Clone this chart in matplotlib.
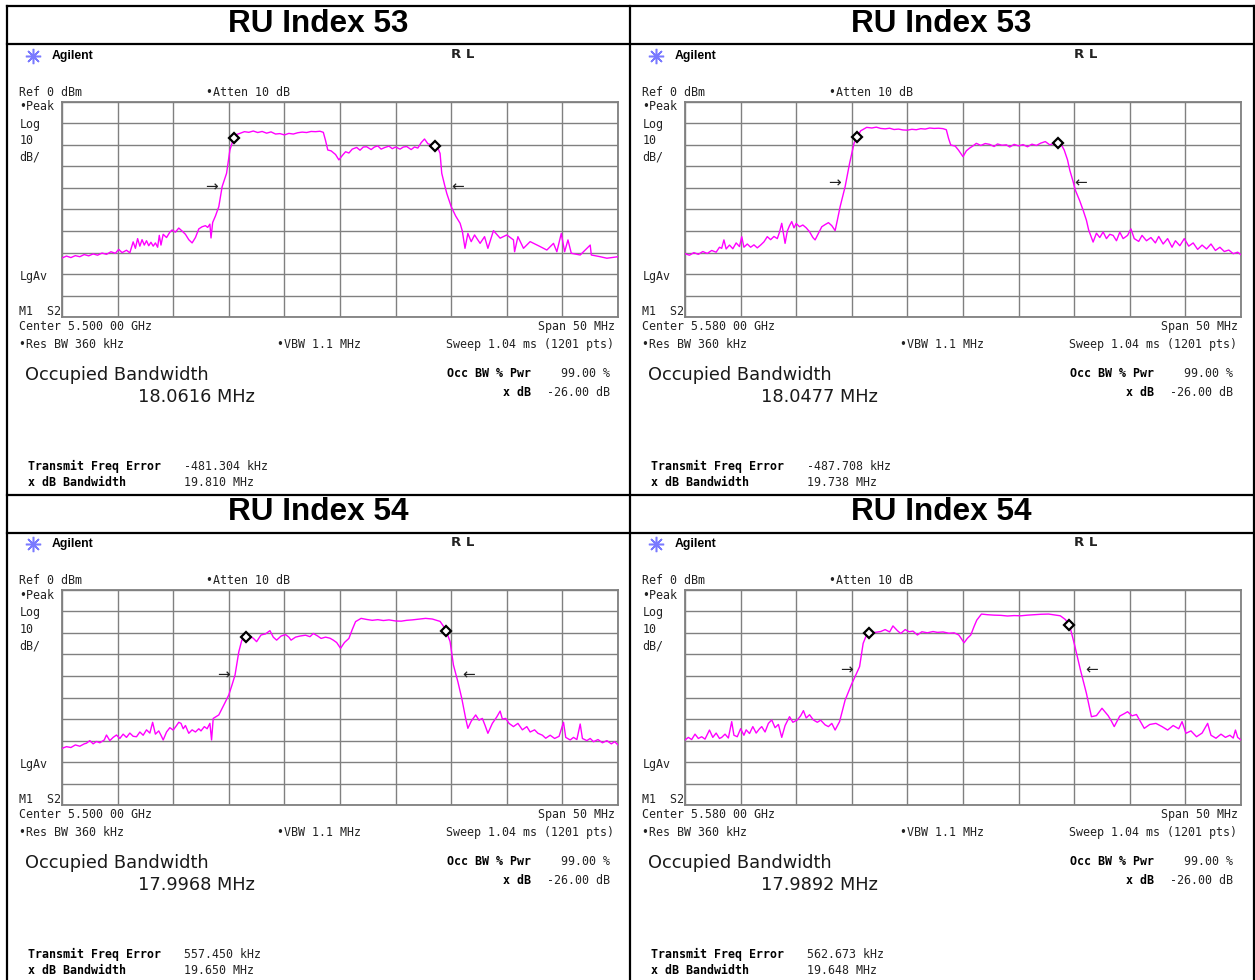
import numpy as np
import matplotlib
matplotlib.use("Agg")
import matplotlib.pyplot as plt
from matplotlib import font_manager

# occupied bandwidth captures, two RUs at two channel centres
ru_index = [53, 53, 54, 54]
center_ghz = ["5.500 00", "5.580 00", "5.500 00", "5.580 00"]
occ_bw_mhz = [18.0616, 18.0477, 17.9968, 17.9892]
freq_err_khz = [-481.304, -487.708, 557.450, 562.673]
xdb_bw_mhz = [19.810, 19.738, 19.650, 19.648]

# trace 1: RU 53 @ 5.500 GHz (offset from centre in MHz, level in dBm)
t1_mhz = [-25.0, -24.6, -24.2, -23.8, -23.4, -23.0, -22.6, -22.2, -21.8, -21.4, -21.0, -20.6, -20.2, -19.9,
          -19.6, -19.2, -18.9, -18.6, -18.4, -18.2, -18.0, -17.8, -17.6, -17.4, -17.2, -17.0, -16.8, -16.6,
          -16.4, -16.25, -16.1, -15.9, -15.6, -15.3, -15.1, -14.8, -14.5, -14.2, -13.9, -13.6, -13.3, -13.0,
          -12.7, -12.4, -12.1, -11.9, -11.7, -11.6, -11.45, -11.2, -10.9, -10.6, -10.2, -9.9, -9.6, -9.3,
          -9.0, -8.6, -8.2, -7.8, -7.4, -7.0, -6.6, -6.2, -5.8, -5.4, -5.0, -4.6, -4.2, -3.8, -3.4, -3.0,
          -2.6, -2.2, -1.8, -1.5, -1.3, -1.1, -0.8, -0.4, -0.1, 0.2, 0.5, 0.8, 1.1, 1.5, 1.8, 2.1, 2.4, 2.8,
          3.1, 3.4, 3.7, 4.0, 4.4, 4.7, 5.0, 5.4, 5.7, 6.0, 6.4, 6.7, 7.0, 7.3, 7.6, 7.9, 8.2, 8.5, 8.8,
          9.0, 9.15, 9.4, 9.6, 10.0, 10.4, 10.8, 11.0, 11.24, 11.5, 11.8, 12.1, 12.6, 13.0, 13.3, 13.8,
          14.4, 15.0, 15.6, 15.7, 16.0, 16.5, 17.1, 18.0, 18.6, 19.2, 19.5, 19.9, 20.2, 20.5, 20.8, 21.6,
          22.5, 22.6, 23.4, 24.0, 25.0]
t1_dbm = [-72.5, -71.6, -72.3, -71.4, -71.9, -70.9, -71.5, -70.6, -71.2, -70.2, -70.8, -69.6, -70.3, -68.5,
          -70.0, -68.9, -70.1, -65.0, -68.0, -63.5, -67.0, -64.0, -66.5, -64.5, -66.8, -65.2, -67.0, -65.5,
          -67.5, -62.0, -66.5, -61.5, -63.0, -60.5, -59.5, -60.5, -58.6, -60.0, -61.5, -64.0, -65.5, -63.0,
          -59.0, -58.0, -57.5, -58.3, -56.8, -63.2, -56.0, -53.0, -48.7, -39.4, -33.2, -22.4, -17.5, -15.2,
          -14.7, -13.9, -14.2, -13.6, -14.3, -13.8, -14.6, -14.0, -15.0, -14.8, -15.4, -14.7, -15.0, -14.4,
          -14.1, -14.3, -13.8, -13.9, -13.7, -14.2, -18.0, -22.4, -22.8, -24.5, -27.0, -25.0, -23.2, -23.8,
          -22.0, -21.2, -22.5, -21.0, -20.9, -22.2, -21.0, -20.5, -22.0, -21.3, -20.6, -21.8, -21.0, -22.0,
          -21.0, -20.8, -22.2, -21.0, -21.5, -19.0, -17.3, -19.5, -20.0, -20.5, -21.5, -24.0, -33.2, -38.5,
          -42.5, -48.7, -53.0, -56.4, -60.0, -68.0, -61.1, -64.9, -61.8, -65.7, -62.6, -68.0, -59.8, -63.3,
          -61.8, -64.1, -69.6, -62.6, -68.0, -64.9, -67.2, -68.8, -65.7, -69.6, -61.1, -69.6, -64.1, -70.3,
          -71.1, -66.5, -71.1, -71.9, -72.6, -71.9]

# trace 2: RU 53 @ 5.580 GHz
t2_mhz = [-25.0, -24.6, -24.2, -23.8, -23.4, -23.0, -22.6, -22.2, -21.9, -21.7, -21.5, -21.3, -21.0, -20.7,
          -20.4, -20.1, -19.9, -19.7, -19.4, -19.1, -18.8, -18.5, -18.2, -17.9, -17.6, -17.3, -17.0, -16.7,
          -16.5, -16.3, -16.0, -15.8, -15.6, -15.4, -15.2, -15.0, -14.7, -14.4, -14.1, -13.8, -13.5, -13.3,
          -13.0, -12.7, -12.4, -12.1, -11.8, -11.5, -11.3, -11.05, -10.6, -10.2, -9.8, -9.5, -9.2, -8.66,
          -8.2, -7.8, -7.4, -7.0, -6.6, -6.2, -5.8, -5.4, -5.0, -4.6, -4.2, -3.8, -3.4, -3.0, -2.6, -2.2,
          -1.8, -1.5, -1.3, -1.1, -0.7, -0.4, 0.0, 0.3, 0.6, 0.9, 1.2, 1.6, 2.0, 2.4, 2.8, 3.1, 3.5, 3.9,
          4.2, 4.6, 5.0, 5.4, 5.8, 6.2, 6.6, 7.0, 7.4, 7.8, 8.2, 8.6, 8.9, 9.1, 9.4, 9.6, 9.9, 10.1, 10.5,
          10.8, 11.1, 11.3, 11.7, 12.0, 12.3, 12.6, 12.9, 13.2, 13.5, 13.8, 14.1, 14.4, 14.8, 15.1, 15.4,
          15.8, 16.1, 16.5, 16.9, 17.3, 17.6, 18.0, 18.4, 18.8, 19.1, 19.5, 19.9, 20.3, 20.7, 21.1, 21.5,
          21.9, 22.3, 22.7, 23.1, 23.5, 23.9, 24.3, 24.7, 25.0]
t2_dbm = [-70.5, -71.2, -70.0, -70.8, -69.5, -70.4, -69.0, -69.8, -67.5, -68.0, -64.1, -68.3, -66.5, -68.2,
          -65.5, -67.2, -62.6, -67.5, -66.0, -67.5, -66.4, -67.8, -66.5, -65.0, -62.6, -64.0, -62.5, -63.5,
          -60.5, -56.4, -65.7, -60.0, -57.5, -55.6, -58.5, -56.5, -58.0, -57.2, -58.5, -60.3, -63.0, -64.1,
          -61.0, -58.0, -57.0, -56.1, -57.5, -59.8, -55.0, -48.7, -39.4, -28.6, -19.3, -16.2, -13.5, -11.9,
          -12.2, -11.8, -12.4, -12.6, -12.3, -12.9, -12.7, -13.1, -13.2, -12.8, -13.0, -12.5, -12.7, -12.2,
          -12.4, -12.3, -12.5, -13.0, -17.0, -20.1, -20.6, -22.5, -25.5, -22.8, -21.5, -20.5, -19.3, -20.3,
          -19.4, -19.8, -20.8, -19.6, -20.2, -20.0, -21.0, -19.8, -20.5, -19.9, -20.9, -19.7, -20.3, -19.2,
          -18.5, -20.0, -19.3, -19.2, -20.5, -22.4, -27.0, -31.7, -37.0, -41.0, -46.0, -50.3, -55.0, -59.5,
          -65.1, -61.0, -63.0, -60.4, -63.5, -61.5, -62.0, -64.5, -60.5, -63.5, -62.0, -59.0, -63.5, -64.8,
          -62.0, -64.5, -63.0, -65.5, -62.5, -66.0, -63.5, -67.5, -64.5, -66.8, -63.5, -67.0, -65.5, -68.5,
          -66.5, -68.3, -66.0, -69.0, -67.5, -69.5, -68.8, -70.5, -69.8, -71.0]

# trace 3: RU 54 @ 5.500 GHz
t3_mhz = [-25.0, -24.6, -24.2, -23.8, -23.4, -23.0, -22.8, -22.5, -22.2, -21.9, -21.6, -21.2, -21.0, -20.7,
          -20.4, -20.1, -19.8, -19.5, -19.2, -18.9, -18.6, -18.3, -18.0, -17.7, -17.4, -17.1, -16.85, -16.6,
          -16.3, -16.1, -15.9, -15.6, -15.3, -15.0, -14.7, -14.5, -14.3, -14.1, -13.9, -13.6, -13.3, -13.0,
          -12.7, -12.5, -12.2, -11.95, -11.7, -11.55, -11.4, -10.9, -10.4, -10.0, -9.7, -9.44, -9.1, -8.83,
          -8.5, -8.2, -7.8, -7.5, -7.1, -6.7, -6.3, -6.0, -5.7, -5.3, -4.9, -4.6, -4.4, -4.0, -3.6, -3.1,
          -2.7, -2.4, -2.0, -1.7, -1.3, -0.9, -0.6, -0.3, 0.05, 0.4, 0.8, 1.1, 1.4, 1.9, 2.4, 2.9, 3.4, 3.9,
          4.4, 5.0, 5.5, 6.0, 6.5, 7.0, 7.7, 8.3, 9.0, 9.5, 9.9, 10.2, 10.6, 10.95, 11.3, 11.5, 11.8, 12.2,
          12.5, 12.8, 13.05, 13.3, 13.7, 14.1, 14.4, 14.6, 14.9, 15.2, 15.6, 16.0, 16.4, 16.8, 17.1, 17.5,
          17.8, 18.2, 18.5, 18.9, 19.3, 19.7, 20.1, 20.3, 20.7, 21.0, 21.3, 21.6, 21.8, 22.2, 22.5, 22.8,
          23.2, 23.6, 24.0, 24.4, 24.7, 25.0]
t3_dbm = [-73.6, -72.8, -73.2, -72.0, -72.6, -71.5, -71.2, -70.0, -71.5, -70.4, -71.0, -69.7, -67.4, -70.0,
          -68.5, -67.4, -69.0, -67.0, -68.5, -66.5, -68.0, -68.2, -66.0, -67.5, -65.0, -66.5, -61.5, -67.0,
          -65.5, -67.5, -69.7, -66.0, -64.0, -65.1, -63.0, -61.5, -62.0, -64.5, -63.0, -66.6, -65.0, -66.0,
          -64.5, -65.5, -63.5, -64.5, -62.0, -69.7, -59.7, -58.1, -53.0, -48.8, -44.0, -39.6, -28.8, -23.4,
          -22.1, -21.5, -22.5, -24.1, -21.0, -20.5, -19.0, -22.0, -23.4, -21.5, -20.8, -22.0, -23.4, -22.0,
          -21.5, -21.1, -21.8, -20.3, -21.5, -22.6, -22.0, -22.5, -23.4, -24.5, -27.2, -24.5, -22.6, -18.5,
          -14.8, -13.3, -13.8, -14.2, -13.9, -14.3, -14.0, -14.5, -14.6, -14.2, -14.0, -13.7, -13.3, -13.6,
          -14.7, -18.4, -24.1, -34.9, -42.7, -50.4, -59.7, -64.3, -61.0, -58.1, -60.5, -59.7, -63.0, -66.6,
          -62.0, -59.0, -56.3, -60.0, -59.7, -62.0, -63.5, -62.0, -65.0, -63.5, -66.0, -65.0, -66.6, -67.5,
          -68.9, -67.5, -69.0, -68.0, -61.5, -68.5, -69.7, -68.5, -69.5, -62.3, -69.0, -70.0, -69.0, -70.5,
          -69.5, -71.0, -70.0, -71.5, -70.5, -72.0]

# trace 4: RU 54 @ 5.580 GHz
t4_mhz = [-25.0, -24.7, -24.4, -24.1, -23.8, -23.5, -23.2, -22.8, -22.5, -22.2, -21.9, -21.7, -21.4, -21.1,
          -20.8, -20.6, -20.3, -20.0, -19.7, -19.5, -19.2, -18.9, -18.6, -18.3, -18.1, -17.8, -17.5, -17.2,
          -16.9, -16.6, -16.3, -16.0, -15.8, -15.6, -15.3, -14.9, -14.6, -14.35, -14.1, -13.8, -13.46, -13.1,
          -12.8, -12.4, -12.1, -11.8, -11.5, -11.1, -10.6, -10.05, -9.3, -8.98, -8.7, -8.45, -7.9, -7.4,
          -7.0, -6.6, -6.3, -5.9, -5.6, -5.2, -4.85, -4.5, -4.1, -3.7, -3.2, -2.7, -2.3, -1.8, -1.26, -0.8,
          -0.38, 0.1, 0.4, 0.7, 1.0, 1.24, 1.66, 2.2, 2.8, 3.4, 4.0, 4.6, 5.2, 5.8, 6.4, 7.0, 7.7, 8.2,
          8.75, 9.2, 9.58, 10.0, 10.56, 11.1, 11.55, 12.0, 12.5, 13.05, 13.35, 13.6, 14.1, 14.5, 14.8, 15.2,
          15.6, 16.0, 16.3, 16.8, 17.35, 17.9, 18.4, 18.9, 19.4, 19.7, 20.05, 20.5, 21.0, 21.5, 22.0, 22.3,
          22.75, 23.2, 23.6, 24.0, 24.3, 24.5, 24.7, 25.0]
t4_dbm = [-69.7, -68.5, -69.5, -67.0, -69.0, -68.2, -69.3, -65.1, -68.5, -66.5, -69.0, -68.5, -67.0, -68.8,
          -61.2, -67.5, -68.2, -64.5, -67.5, -65.0, -66.7, -63.5, -66.5, -64.5, -63.5, -66.0, -62.0, -60.4,
          -64.0, -62.5, -68.5, -63.0, -61.0, -58.9, -61.5, -60.4, -58.5, -56.1, -59.5, -58.0, -60.4, -61.5,
          -60.5, -62.7, -63.5, -62.0, -65.1, -61.2, -51.2, -44.2, -35.7, -24.9, -21.3, -19.9, -19.8, -19.4,
          -18.5, -19.6, -16.8, -19.0, -20.3, -18.5, -19.5, -19.2, -21.0, -19.5, -20.0, -19.4, -19.8, -19.6,
          -20.2, -20.0, -21.0, -24.6, -22.5, -21.0, -17.0, -14.1, -11.3, -11.6, -11.8, -11.9, -12.2, -12.0,
          -12.1, -11.8, -11.6, -11.4, -11.3, -11.7, -12.1, -13.8, -16.5, -24.9, -37.2, -48.1, -58.9, -58.4,
          -55.0, -58.4, -61.0, -63.5, -58.6, -57.5, -56.6, -58.5, -57.9, -61.5, -64.3, -62.5, -62.0, -63.5,
          -65.1, -63.0, -64.5, -61.2, -66.6, -65.5, -68.2, -66.5, -62.0, -67.5, -68.9, -67.0, -68.5, -67.5,
          -68.8, -65.1, -68.5, -69.7]

traces = [(t1_mhz, t1_dbm), (t2_mhz, t2_dbm), (t3_mhz, t3_dbm), (t4_mhz, t4_dbm)]

W, H = 1255, 980
fig = plt.figure(figsize=(W / 100, H / 100), dpi=100, facecolor="white")

# whole-figure axes in pixel units for the table, labels and logo
ov = fig.add_axes([0, 0, 1, 1], zorder=0)
ov.set_xlim(0, W)
ov.set_ylim(H, 0)
ov.axis("off")

fonts = {f.name for f in font_manager.fontManager.ttflist}
if "Liberation Sans Narrow" in fonts:
    big = dict(family="Liberation Sans Narrow", size=17)
else:
    big = dict(family="DejaVu Sans", size=12.8)
mono = dict(family="DejaVu Sans Mono", size=8.4, color="#222222")
mono_b = dict(family="DejaVu Sans Mono", size=8.4, color="black", fontweight="bold")

# table borders
for x0, y0, x1, y1 in [(7, 6.5, 1253.5, 6.5), (7, 44, 1253.5, 44), (7, 495, 1253.5, 495),
                       (7, 532.5, 1253.5, 532.5), (7, 6.5, 7, H), (1253.5, 6.5, 1253.5, H),
                       (630, 6.5, 630, H)]:
    ov.plot([x0, x1], [y0, y1], color="black", lw=1.6, solid_capstyle="projecting")

offsets = [(0, 0), (623, 0), (0, 488), (623, 488)]
grid_l, grid_t, grid_w, grid_h = 62, 101.7, 556, 215.6

for i, (ox, oy) in enumerate(offsets):
    # header cell
    hx = 318.5 if ox == 0 else 941.5
    ov.text(hx, 24 + oy, f"RU Index {ru_index[i]}", ha="center", va="center",
            family="Liberation Sans", fontweight="bold", fontsize=22.7)

    # analyzer banner
    ov.plot(33 + ox, 56 + oy, marker=(8, 2, 0), ms=11, mew=1.1, color="#7a7aff")
    ov.plot(33 + ox, 56 + oy, marker="s", ms=3.5, color="#7a7aff")
    ov.text(52 + ox, 56 + oy, "Agilent", va="center", family="Liberation Sans",
            fontweight="bold", fontsize=8.8)
    ov.text(451 + ox, 54 + oy, "R L", va="center", family="DejaVu Sans",
            fontweight="bold", fontsize=9.5, color="#222222")

    ov.text(19.3 + ox, 92 + oy, "Ref 0 dBm", va="center", **mono)
    ov.text(206 + ox, 92 + oy, "\u2022Atten 10 dB", va="center", **mono)
    for s, yy in [("\u2022Peak", 107), ("Log", 124.5), ("10", 141), ("dB/", 157.5),
                  ("LgAv", 276), ("M1  S2", 311)]:
        ov.text(19.3 + ox, yy + oy, s, va="center", **mono)
    ov.text(19.3 + ox, 326 + oy, f"Center {center_ghz[i]} GHz", va="center", **mono)
    ov.text(615 + ox, 326 + oy, "Span 50 MHz", va="center", ha="right", **mono)
    ov.text(19.3 + ox, 344.5 + oy, "\u2022Res BW 360 kHz", va="center", **mono)
    ov.text(276.7 + ox, 344.5 + oy, "\u2022VBW 1.1 MHz", va="center", **mono)
    ov.text(614 + ox, 344.5 + oy, "Sweep 1.04 ms (1201 pts)", va="center", ha="right", **mono)

    ov.text(25 + ox, 375 + oy, "Occupied Bandwidth", va="center", color="#1a1a1a", **big)
    ov.text(138 + ox, 397 + oy, f"{occ_bw_mhz[i]:.4f} MHz", va="center", color="#1a1a1a", **big)
    ov.text(530.7 + ox, 373.5 + oy, "Occ BW % Pwr", va="center", ha="right", **mono_b)
    ov.text(610 + ox, 373.5 + oy, "99.00 %", va="center", ha="right", **mono)
    ov.text(530.7 + ox, 392 + oy, "x dB", va="center", ha="right", **mono_b)
    ov.text(610 + ox, 392 + oy, "-26.00 dB", va="center", ha="right", **mono)

    ov.text(27.7 + ox, 466 + oy, "Transmit Freq Error", va="center", **mono_b)
    ov.text(184 + ox, 466 + oy, f"{freq_err_khz[i]:.3f} kHz", va="center", **mono)
    ov.text(27.7 + ox, 482.5 + oy, "x dB Bandwidth", va="center", **mono_b)
    ov.text(184 + ox, 482.5 + oy, f"{xdb_bw_mhz[i]:.3f} MHz", va="center", **mono)

    # graticule and trace
    ax = fig.add_axes([(grid_l + ox) / W, 1 - (grid_t + oy + grid_h) / H, grid_w / W, grid_h / H],
                      zorder=2)
    ax.set_xlim(-25, 25)
    ax.set_ylim(-100, 0)
    ax.set_xticks(np.arange(-25, 26, 5))
    ax.set_yticks(np.arange(-100, 1, 10))
    ax.tick_params(length=0, labelbottom=False, labelleft=False)
    ax.grid(True, color="#808080", lw=1.0)
    for sp in ax.spines.values():
        sp.set_color("#808080")
        sp.set_linewidth(1.3)

    f, lv = traces[i]
    ax.plot(f, lv, color="#ff00ff", lw=1.0, zorder=3)

    # occupied bandwidth edges from freq error and OBW
    fc = freq_err_khz[i] / 1000
    edges = [fc - occ_bw_mhz[i] / 2, fc + occ_bw_mhz[i] / 2]
    ax.plot(edges, np.interp(edges, f, lv), ls="none", marker="D", ms=5, mfc="white",
            mec="black", mew=1.6, zorder=4)

    # x dB bandwidth arrows
    lvl = max(lv) - 26
    lo, hi = fc - xdb_bw_mhz[i] / 2, fc + xdb_bw_mhz[i] / 2
    ax.annotate("\u2192", (lo, lvl), xytext=(-9.5, 0), textcoords="offset points",
                ha="center", va="center", fontsize=11, color="#222222")
    ax.annotate("\u2190", (hi, lvl), xytext=(9.5, 0), textcoords="offset points",
                ha="center", va="center", fontsize=11, color="#222222")

fig.savefig("out.png", dpi=100, facecolor="white")
